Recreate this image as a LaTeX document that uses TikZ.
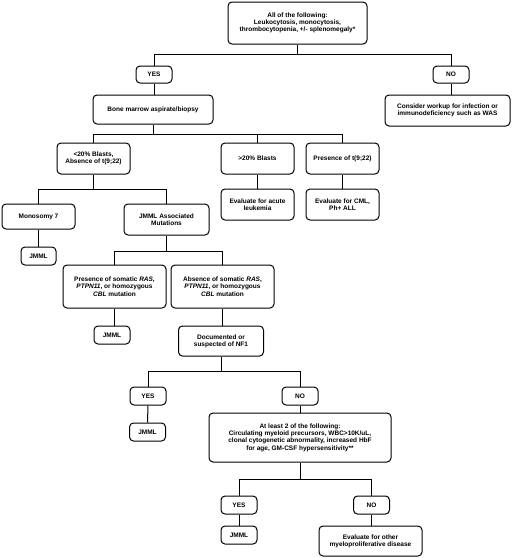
\documentclass[tikz,border=0pt]{standalone}
\usepackage{fontspec}
\setmainfont{Liberation Sans}
\begin{document}
\begin{tikzpicture}[x=1pt,y=-1pt,
  box/.style={draw, rounded corners=4pt, line width=1pt, align=center, inner sep=0pt,
    font=\fontsize{6.5}{7.3}\selectfont\bfseries},
  conn/.style={line width=1pt}]
\useasboundingbox (0,0) rectangle (520,558);
\node[box, minimum width=139, minimum height=42] (top) at (297.5,23) {All of the following:\\Leukocytosis, monocytosis,\\thrombocytopenia, +/- splenomegaly*};
\node[box, minimum width=36, minimum height=17] (yes1) at (154,74.5) {YES};
\node[box, minimum width=36, minimum height=17] (no1) at (451,74.5) {NO};
\node[box, minimum width=120, minimum height=29] (bone) at (153,109.5) {Bone marrow aspirate/biopsy};
\node[box, minimum width=125, minimum height=31] (cons) at (447.5,110.5) {Consider workup for infection or\\immunodeficiency such as WAS};
\node[box, minimum width=73, minimum height=31] (lt) at (93.5,158.5) {<20\% Blasts,\\Absence of t(9;22)};
\node[box, minimum width=73, minimum height=31] (gt) at (257.5,158.5) {>20\% Blasts};
\node[box, minimum width=73, minimum height=31] (t922) at (342.5,158.5) {Presence of t(9;22)};
\node[box, minimum width=73, minimum height=31] (acute) at (257.5,204.5) {Evaluate for acute\\leukemia};
\node[box, minimum width=73, minimum height=31] (cml) at (342.5,204.5) {Evaluate for CML,\\Ph+ ALL};
\node[box, minimum width=73, minimum height=25] (mono) at (38.5,216.5) {Monosomy 7};
\node[box, minimum width=85, minimum height=31] (assoc) at (166.5,219.5) {JMML Associated\\Mutations};
\node[box, minimum width=35, minimum height=18] (jmmla) at (38.5,256) {JMML};
\node[box, minimum width=103, minimum height=43] (pres) at (114.5,286.5) {Presence of somatic \textit{RAS},\\\textit{PTPN11}, or homozygous\\\textit{CBL} mutation};
\node[box, minimum width=103, minimum height=43] (abs) at (222.5,286.5) {Absence of somatic \textit{RAS},\\\textit{PTPN11}, or homozygous\\\textit{CBL} mutation};
\node[box, minimum width=36, minimum height=18] (jmmlb) at (112,335) {JMML};
\node[box, minimum width=85, minimum height=30] (doc) at (221,341) {Documented or\\suspected of NF1};
\node[box, minimum width=36, minimum height=18] (yes2) at (148,396) {YES};
\node[box, minimum width=36, minimum height=18] (no2) at (300,396) {NO};
\node[box, minimum width=36, minimum height=18] (jmmlc) at (147.5,432) {JMML};
\node[box, minimum width=182, minimum height=49] (least) at (300,437.5) {At least 2 of the following:\\Circulating myeloid precursors, WBC>10K/uL,\\clonal cytogenetic abnormality, increased HbF\\for age, GM-CSF hypersensitivity**};
\node[box, minimum width=36, minimum height=18] (yes3) at (239,505) {YES};
\node[box, minimum width=36, minimum height=18] (no3) at (371.5,505) {NO};
\node[box, minimum width=36, minimum height=18] (jmmld) at (239,535) {JMML};
\node[box, minimum width=103, minimum height=30] (other) at (370.5,541) {Evaluate for other\\myeloproliferative disease};
% connectors
\draw[conn] (top.south) -- (top.south |- 0,54) -| (yes1.north);
\draw[conn] (top.south |- 0,54) -| (no1.north);
\draw[conn] (yes1.south) -- (yes1.south |- bone.north);
\draw[conn] (no1.south) -- (no1.south |- cons.north);
\draw[conn] (bone.south) -- (bone.south |- 0,134) -| (lt.north);
\draw[conn] (bone.south |- 0,134) -| (gt.north);
\draw[conn] (bone.south |- 0,134) -| (t922.north);
\draw[conn] (gt.south) -- (acute.north);
\draw[conn] (t922.south) -- (cml.north);
\draw[conn] (lt.south) -- (lt.south |- 0,189) -| (mono.north);
\draw[conn] (lt.south |- 0,189) -| (assoc.north);
\draw[conn] (mono.south) -- (jmmla.north);
\draw[conn] (assoc.south) -- (assoc.south |- 0,251) -| (pres.north);
\draw[conn] (assoc.south |- 0,251) -| (abs.north);
\draw[conn] (pres.south) -- (pres.south |- jmmlb.north);
\draw[conn] (abs.south) -- (abs.south |- doc.north);
\draw[conn] (doc.south) -- (doc.south |- 0,371) -| (yes2.north);
\draw[conn] (doc.south |- 0,371) -| (no2.north);
\draw[conn] (yes2.south) -- (jmmlc.north);
\draw[conn] (no2.south) -- (least.north);
\draw[conn] (least.south) -- (least.south |- 0,479) -| (yes3.north);
\draw[conn] (least.south |- 0,479) -| (no3.north);
\draw[conn] (yes3.south) -- (jmmld.north);
\draw[conn] (no3.south) -- (no3.south |- other.north);
\end{tikzpicture}
\end{document}
